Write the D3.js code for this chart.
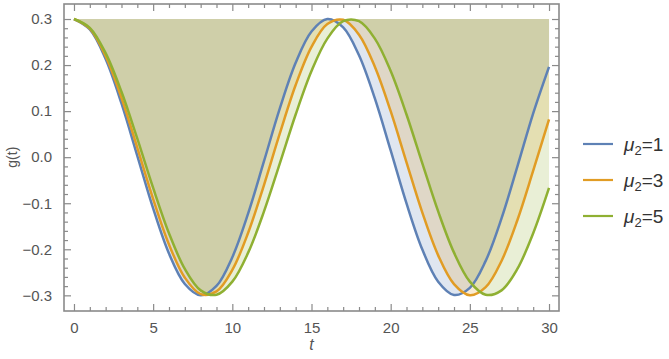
<!DOCTYPE html>
<html>
<head>
<meta charset="utf-8">
<script src="https://cdn.jsdelivr.net/npm/d3@7"></script>
<style>
  body { margin: 0; background: #fff; }
  text { font-family: "Liberation Sans", Arial, sans-serif; }
</style>
</head>
<body>
<div id="chart"></div>
<script>
// values, t = 0..30 step 1
var tValues = d3.range(0, 31);
var mu1 = [0.300, 0.2774, 0.2131, 0.1167, 0.0029, -0.1113, -0.2093, -0.2753, -0.2999, -0.2796,
           -0.2172, -0.1222, -0.0088, 0.1059, 0.2048, 0.2728, 0.2999, 0.2817, 0.2212, 0.1276,
           0.0146, -0.1004, -0.2006, -0.2703, -0.2991, -0.2837, -0.2252, -0.1328, -0.0205, 0.0950, 0.1961];
var mu3 = [0.300, 0.2791, 0.2192, 0.1288, 0.0203, -0.0909, -0.1896, -0.2617, -0.2973, -0.2914,
           -0.2448, -0.1642, -0.0605, 0.0515, 0.1566, 0.2395, 0.2891, 0.2983, 0.2660, 0.1965,
           0.0998, -0.0112, -0.1204, -0.2132, -0.2756, -0.2999, -0.2823, -0.2253, -0.1369, -0.0294, 0.0821];
var mu5 = [0.300, 0.2809, 0.2259, 0.1420, 0.0403, -0.0668, -0.1653, -0.2427, -0.2892, -0.2988,
           -0.2703, -0.2073, -0.1178, -0.0135, 0.0927, 0.1871, 0.2575, 0.2952, 0.2952, 0.2575,
           0.1871, 0.0927, -0.0135, -0.1178, -0.2073, -0.2703, -0.2988, -0.2892, -0.2427, -0.1652, -0.0668];
var seriesNames = ["1", "3", "5"];
var seriesColors = ["#5E81B5", "#E19C24", "#8FB032"];
var fillTop = 0.3;
var xTicks = [0, 5, 10, 15, 20, 25, 30];
var yTicks = [-0.3, -0.2, -0.1, 0.0, 0.1, 0.2, 0.3];

var allSeries = [mu1, mu3, mu5];

var width = 669, height = 359;
var margin = {top: 4, left: 64, right: 110, bottom: 48};

var svg = d3.select("#chart").append("svg")
    .attr("width", width)
    .attr("height", height);

var x = d3.scaleLinear()
    .domain([-0.63, 30.63])
    .range([margin.left, width - margin.right]);

var y = d3.scaleLinear()
    .domain([-0.334, 0.3326])
    .range([height - margin.bottom, margin.top]);

var fmt = function(d){ return d3.format(".1f")(d).replace("-", "\u2212"); };

// fills: each curve up to 0.3
var area = d3.area()
    .x(function(d, i){ return x(tValues[i]); })
    .y0(y(fillTop))
    .y1(function(d){ return y(d); })
    .curve(d3.curveCatmullRom.alpha(0.5));

svg.selectAll(".fill")
    .data(allSeries).enter().append("path")
    .attr("class", "fill")
    .attr("d", area)
    .attr("fill", function(d, i){ return seriesColors[i]; })
    .attr("fill-opacity", 0.2);

var line = d3.line()
    .x(function(d, i){ return x(tValues[i]); })
    .y(function(d){ return y(d); })
    .curve(d3.curveCatmullRom.alpha(0.5));

svg.selectAll(".curve")
    .data(allSeries).enter().append("path")
    .attr("class", "curve")
    .attr("d", line)
    .attr("fill", "none")
    .attr("stroke", function(d, i){ return seriesColors[i]; })
    .attr("stroke-width", 2.5);

// frame with inward ticks on all sides
var x0 = x.range()[0], x1 = x.range()[1], y0 = y.range()[0], y1 = y.range()[1];
var frameColor = "#8a8a8a";

var xMinor = d3.range(0, 31).filter(function(d){ return d % 5 !== 0; });
var yMinor = d3.range(-15, 16).map(function(d){ return d / 50; })
    .filter(function(d){ return Math.abs(Math.round(d * 50)) % 5 !== 0; });

var bottomAxis = d3.axisBottom(x).tickValues(xTicks).tickSize(-7).tickFormat(d3.format("d")).tickPadding(11);
var topAxis = d3.axisTop(x).tickValues(xTicks).tickSize(-7).tickFormat("");
var leftAxis = d3.axisLeft(y).tickValues(yTicks).tickSize(-7).tickFormat(fmt).tickPadding(12);
var rightAxis = d3.axisRight(y).tickValues(yTicks).tickSize(-7).tickFormat("");

function minor(axisFn, scale, vals){
    return axisFn(scale).tickValues(vals).tickSize(-4).tickFormat("");
}

var axes = [
    [bottomAxis, "translate(0," + y0 + ")"],
    [minor(d3.axisBottom, x, xMinor), "translate(0," + y0 + ")"],
    [topAxis, "translate(0," + y1 + ")"],
    [minor(d3.axisTop, x, xMinor), "translate(0," + y1 + ")"],
    [leftAxis, "translate(" + x0 + ",0)"],
    [minor(d3.axisLeft, y, yMinor), "translate(" + x0 + ",0)"],
    [rightAxis, "translate(" + x1 + ",0)"],
    [minor(d3.axisRight, y, yMinor), "translate(" + x1 + ",0)"]
];

axes.forEach(function(a){
    var g = svg.append("g").attr("transform", a[1]).call(a[0]);
    g.select(".domain").remove();
    g.selectAll("line").attr("stroke", frameColor).attr("stroke-width", 1.2);
    g.selectAll("text").attr("fill", "#555").style("font-size", "15px");
});

svg.append("rect")
    .attr("x", x0).attr("y", y1)
    .attr("width", x1 - x0).attr("height", y0 - y1)
    .attr("fill", "none")
    .attr("stroke", frameColor)
    .attr("stroke-width", 1.6);

// axis labels
svg.append("text")
    .attr("transform", "translate(17," + y(0) + ") rotate(-90)")
    .attr("text-anchor", "middle")
    .attr("fill", "#555")
    .style("font-size", "14px")
    .text("g(t)");

svg.append("text")
    .attr("x", (x(0) + x(30)) / 2)
    .attr("y", 350)
    .attr("text-anchor", "middle")
    .attr("fill", "#555")
    .style("font-size", "16px")
    .style("font-style", "italic")
    .text("t");

// legend
var legend = svg.selectAll(".leg")
    .data(seriesNames).enter().append("g")
    .attr("class", "leg")
    .attr("transform", function(d, i){ return "translate(583," + (144 + i * 36) + ")"; });

legend.append("line")
    .attr("x1", 0).attr("x2", 30)
    .attr("stroke", function(d, i){ return seriesColors[i]; })
    .attr("stroke-width", 2.2);

var lt = legend.append("text")
    .attr("x", 41).attr("y", 7)
    .attr("fill", "#333")
    .style("font-size", "19px");
lt.append("tspan").style("font-style", "italic").text("\u03bc");
lt.append("tspan").attr("dy", 4).style("font-size", "13px").text("2");
lt.append("tspan").attr("dy", -4).text(function(d){ return "=" + d; });
</script>
</body>
</html>
